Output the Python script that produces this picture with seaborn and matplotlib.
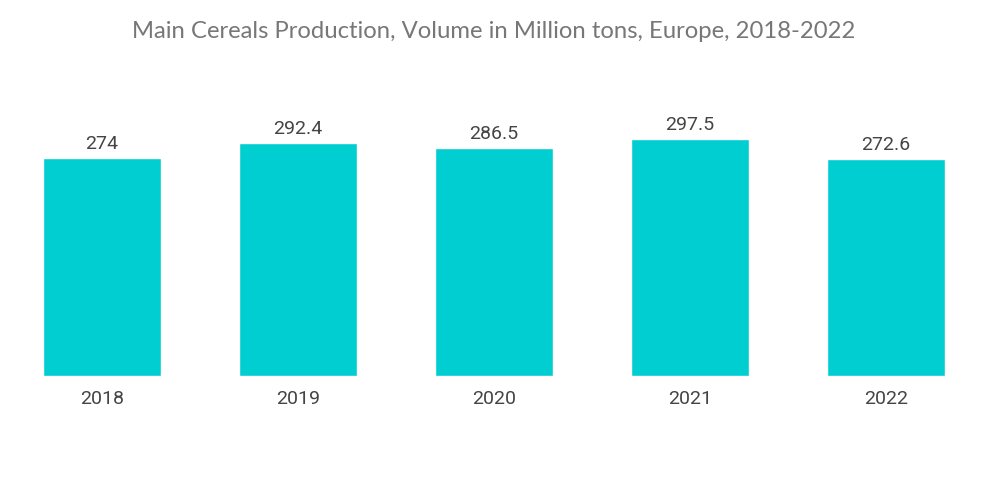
import matplotlib
matplotlib.use("Agg")
import matplotlib.pyplot as plt
import seaborn as sns
import pandas as pd

years = ["2018", "2019", "2020", "2021", "2022"]
values = [274, 292.4, 286.5, 297.5, 272.6]
value_labels = ["274", "292.4", "286.5", "297.5", "272.6"]

sns.set_theme(style="white")
plt.rcParams["font.family"] = ["Roboto", "DejaVu Sans"]

df = pd.DataFrame({"year": years, "value": values})

fig = plt.figure(figsize=(10, 5.04), dpi=100)
ax = fig.add_axes([0.004, 0.254, 0.98, 0.55])
sns.barplot(data=df, x="year", y="value", color="#00CED1", saturation=1, width=0.6, ax=ax)

ax.set_ylim(0, 348)
ax.set_xlim(-0.5, 4.5)
for i, (v, lab) in enumerate(zip(values, value_labels)):
    ax.text(i, v + 6, lab, ha="center", va="bottom", fontsize=14, color="#444444")

ax.set_xlabel("")
ax.set_ylabel("")
ax.set_yticks([])
ax.tick_params(axis="x", length=0, labelsize=14, labelcolor="#444444", pad=10)
for s in ax.spines.values():
    s.set_visible(False)

fig.text(0.494, 0.937, "Main Cereals Production, Volume in Million tons, Europe, 2018-2022",
         ha="center", va="center", fontsize=17.2, color="#777777", family=["Lato", "DejaVu Sans"])

fig.savefig("out.png", dpi=100)
